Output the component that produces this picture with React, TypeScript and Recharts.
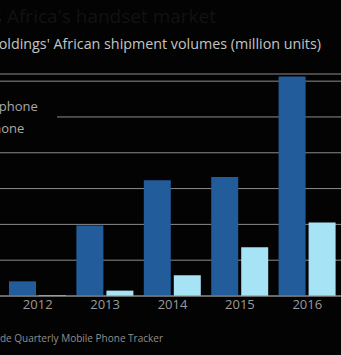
import React from "react";
import { BarChart, Bar, XAxis, YAxis, CartesianGrid, Legend } from "recharts";

const years = ["2012", "2013", "2014", "2015", "2016"];
const featurePhone = [4.1, 19.7, 32.3, 33.2, 61.3];
const smartphone = [0.2, 1.5, 5.8, 13.6, 20.5];
const yTicks = [0, 10, 20, 30, 40, 50, 60];

const data = years.map((y, i) => ({ year: y, feature: featurePhone[i], smart: smartphone[i] }));

const DARK = "#235c9b";
const LIGHT = "#a6e3f4";
const GRID = "#8c8c8c";
const FONT = "'Open Sans', 'Noto Sans', sans-serif";

const LegendContent = (props: any) => {
  const items = props.payload || [];
  return (
    <div style={{ background: "#030303", width: "100%", height: "100%", paddingTop: 0 }}>
      {items.map((it: any) => (
        <div key={it.value} style={{ display: "flex", alignItems: "center", height: 22, fontSize: 13, color: "#a9a9a9", fontFamily: FONT, marginLeft: -7 }}>
          <span style={{ width: 10, height: 10, background: it.color, marginRight: 6, display: "inline-block", flexShrink: 0 }} />
          <span style={{ whiteSpace: "nowrap" }}>{it.value}</span>
        </div>
      ))}
    </div>
  );
};

export default function App() {
  return (
    <div style={{ position: "fixed", left: 0, top: 0, width: 341, height: 355, background: "#030303", overflow: "hidden", fontFamily: FONT }}>
      <div style={{ position: "absolute", right: 341 - 216, top: 3, fontSize: 19, color: "#121212", whiteSpace: "nowrap" }}>
        Transsion leads Africa&apos;s handset market
      </div>
      <div style={{ position: "absolute", right: 341 - 321, top: 34, fontSize: 14.3, color: "#c4c4c4", whiteSpace: "nowrap" }}>
        Transsion Holdings&apos; African shipment volumes (million units)
      </div>
      <div style={{ position: "absolute", left: -60, top: 0 }}>
        <BarChart width={401} height={320} data={data} margin={{ top: 74, right: 0, bottom: 0, left: 0 }} barCategoryGap={5} barGap={3}>
          <CartesianGrid vertical={false} stroke={GRID} strokeWidth={1} />
          <YAxis hide domain={[0, 62]} ticks={yTicks} />
          <XAxis
            dataKey="year"
            padding={{ left: 64, right: 0 }}
            height={24}
            tickLine={false}
            tickSize={2}
            tickMargin={2}
            axisLine={{ stroke: GRID }}
            tick={{ fill: "#9a9a9a", fontSize: 13, fontFamily: FONT }}
          />
          <Legend
            layout="horizontal"
            verticalAlign="middle"
            align="center"
            content={<LegendContent />}
            wrapperStyle={{ position: "absolute", left: 0, top: 95, width: 117, height: 45 }}
          />
          <Bar dataKey="feature" name="Feature phone" fill={DARK} isAnimationActive={false} />
          <Bar dataKey="smart" name="Smartphone" fill={LIGHT} isAnimationActive={false} />
        </BarChart>
      </div>
      <div style={{ position: "absolute", right: 341 - 163, top: 331, fontSize: 10, color: "#8f8f8f", whiteSpace: "nowrap" }}>
        Source: IDC Worldwide Quarterly Mobile Phone Tracker
      </div>
    </div>
  );
}
